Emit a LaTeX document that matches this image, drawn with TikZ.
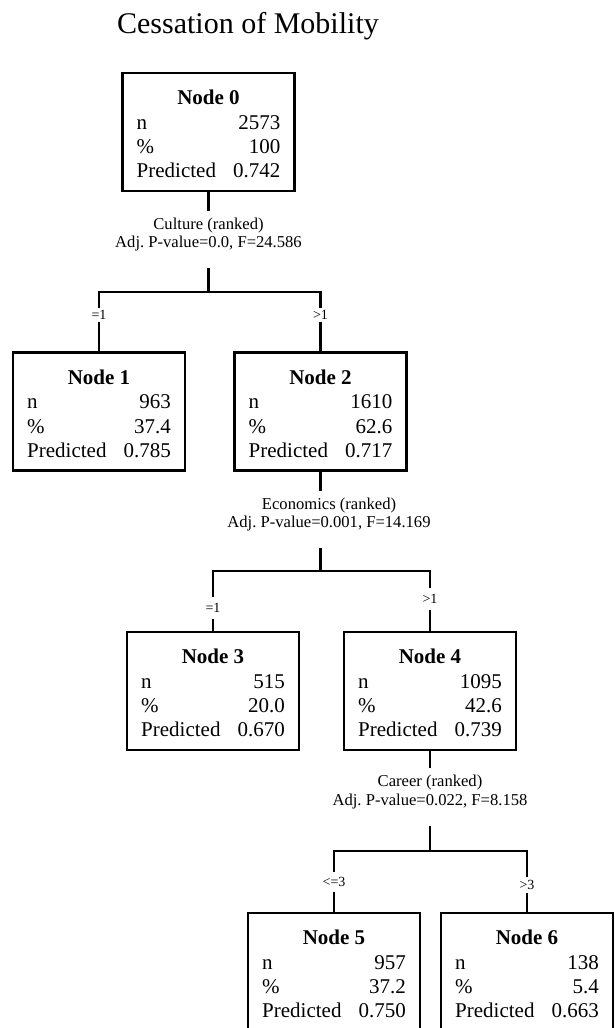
\documentclass[tikz,border=0pt]{standalone}
\usepackage{fontspec}
\setmainfont{Liberation Serif}
\frenchspacing
\newcommand{\splittail}{\rule[-13.6pt]{0pt}{13.6pt}}
\tikzset{
  treebox/.style={draw, line width=2.2pt, minimum width=172pt, minimum height=118pt,
    inner sep=0pt, font=\fontsize{21}{24.3}\selectfont},
  splitlab/.style={align=center, inner xsep=2pt, inner ysep=6.8pt,
    font=\fontsize{16.6}{18.3}\selectfont},
  branch/.style={inner xsep=1pt, inner ysep=2.3pt, fill=white,
    font=\fontsize{14}{16}\selectfont},
  conn/.style={line width=2.2pt}
}
\begin{document}
\begin{tikzpicture}[x=1pt, y=-1pt]
  \path[use as bounding box, fill=white] (0,0) rectangle (614,1028);
  \clip (0,0) rectangle (614,1028);

  % Title
  \node[anchor=base, font=\fontsize{30}{36}\selectfont] (title) at (248,33) {Cessation of Mobility};

  % Tree nodes
  \foreach \num/\x/\y/\cnt/\pct/\pred in {0/208.5/132/2573/100/0.742, 1/99/411.5/963/37.4/0.785,
      2/320.5/411.5/1610/62.6/0.717, 3/213/691/515/20.0/0.670, 4/430/691/1095/42.6/0.739,
      5/334/972/957/37.2/0.750, 6/527/972/138/5.4/0.663} {
    \node[treebox] (n\num) at (\x,\y) {\begin{tabular}{@{}l@{\hspace{17pt}}r@{}}
      \multicolumn{2}{c}{\rule{0pt}{26pt}\textbf{Node \num}}\\
      n & \cnt\\
      \% & \pct\\
      Predicted & \pred
    \end{tabular}};
  }

  % Split labels
  \node[splitlab] (s0) at (208.5,239.5) {Culture (ranked)\\Adj. P-value=0.0, F=24.586\splittail};
  \node[splitlab] (s1) at (329,519.5) {Economics (ranked)\\Adj. P-value=0.001, F=14.169\splittail};
  \node[splitlab] (s2) at (430,797) {Career (ranked)\\Adj. P-value=0.022, F=8.158\splittail};

  % Branch labels
  \node[branch] (e1) at (99,315) {=1};
  \node[branch] (e2) at (320.5,315) {>1};
  \node[branch, inner ysep=6pt] (e3) at (213,608) {=1};
  \node[branch, inner ysep=6pt] (e4) at (430,599) {>1};
  \node[branch, inner ysep=5.3pt] (e5) at (334,882) {<=3};
  \node[branch, inner ysep=3.3pt] (e6) at (527,885) {>3};

  % Junctions
  \coordinate (j0) at (208.5,292);
  \coordinate (j1) at (320.5,571);
  \coordinate (j2) at (430,851);

  % Connectors
  \draw[conn] (n0) -- (s0);
  \draw[conn] (s0) -- (j0);
  \draw[conn] (e1) |- (j0) -| (e2);
  \draw[conn] (e1) -- (n1);
  \draw[conn] (e2) -- (n2);

  \draw[conn] (n2.south) -- (n2.south |- s1.north);
  \draw[conn] (n2.south |- s1.south) -- (j1);
  \draw[conn] (e3) |- (j1) -| (e4);
  \draw[conn] (e3) -- (n3);
  \draw[conn] (e4) -- (n4);

  \draw[conn] (n4) -- (s2);
  \draw[conn] (s2) -- (j2);
  \draw[conn] (e5) |- (j2) -| (e6);
  \draw[conn] (e5) -- (n5);
  \draw[conn] (e6) -- (n6);
\end{tikzpicture}
\end{document}
